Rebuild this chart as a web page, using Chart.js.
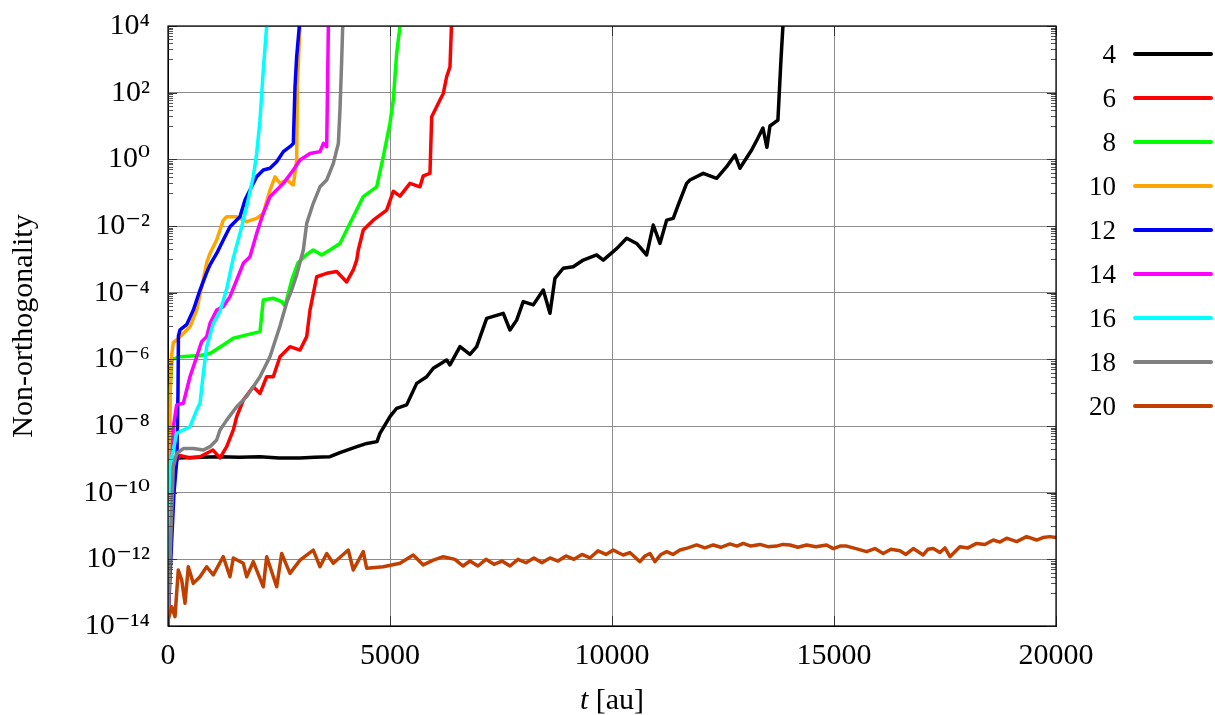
<!DOCTYPE html>
<html><head><meta charset="utf-8">
<script src="https://cdn.jsdelivr.net/npm/chart.js"></script>
<style>html,body{margin:0;padding:0;background:#fff;overflow:hidden;} #wrap{width:1215px;height:715px;}</style>
</head><body>
<div id="wrap"><canvas id="c" width="1215" height="715"></canvas></div>
<script>
const seriesLabels = ['4','6','8','10','12','14','16','18','20'];
const seriesColors = ['#000000','#ff0000','#00ff00','#ffa500','#0000ff','#ff00ff','#00ffff','#808080','#bf4000'];

const t4 = [0,60,120,203,700,1171,1600,2072,2500,2973,3300,3648,3873,4256,4481,4707,4774,4999,5150,5375,5601,5826,5975,6276,6351,6576,6801,6952,7177,7551,7702,7853,8001,8227,8452,8603,8715,8902,9127,9353,9654,9803,10105,10330,10555,10780,10929,11080,11231,11379,11492,11681,11755,12055,12357,12582,12769,12881,13145,13264,13399,13489,13557,13737,13805,13850];
const v4 = [3.2e-14,1e-11,3.2e-10,1.1e-9,1.15e-9,1.2e-9,1.15e-9,1.2e-9,1.1e-9,1.1e-9,1.15e-9,1.2e-9,1.6e-9,2.4e-9,3.0e-9,3.4e-9,6.0e-9,1.9e-8,3.4e-8,4.3e-8,1.9e-7,3.0e-7,5.4e-7,9.5e-7,6.8e-7,2.4e-6,1.4e-6,2.4e-6,1.7e-5,2.4e-5,7.6e-6,1.5e-5,5.4e-5,4.3e-5,1.2e-4,2.4e-5,2.7e-4,5.4e-4,6.0e-4,9.5e-4,1.35e-3,9.5e-4,2.1e-3,4.3e-3,3.0e-3,1.35e-3,1.07e-2,3.0e-3,1.5e-2,1.7e-2,4.3e-2,0.19,0.24,0.38,0.27,0.60,1.35,0.54,1.9,3.8,8.7,2.3,10,15,950,1e4];

const t6 = [0,40,100,160,270,495,721,1013,1171,1322,1471,1547,1696,1921,2072,2223,2371,2522,2747,2973,3124,3198,3349,3574,3799,4024,4173,4250,4286,4398,4623,4925,5074,5225,5450,5675,5749,5900,5939,6125,6200,6276,6351,6384];
const v6 = [1e-14,1e-12,1e-10,7.9e-10,1.3e-9,1.1e-9,1.2e-9,1.9e-9,1.1e-9,2.4e-9,7.6e-9,1.9e-8,6.0e-8,1.5e-7,9.5e-8,3.0e-7,3.0e-7,1.2e-6,2.4e-6,1.9e-6,4.8e-6,3.0e-5,3.0e-4,3.8e-4,4.3e-4,2.1e-4,4.8e-4,9.5e-4,1.9e-3,7.6e-3,1.5e-2,3.0e-2,0.11,7.9e-2,0.19,0.15,0.32,0.38,19,60,95,300,600,1e4];

const t8 = [0,11,45,90,270,721,946,1245,1471,1772,2072,2146,2371,2560,2635,2792,2927,3124,3272,3461,3648,3873,4024,4173,4398,4700,4849,4999,5074,5150,5225];
const v8 = [1e-13,1e-12,1e-7,1e-6,1.2e-6,1.3e-6,1.5e-6,2.7e-6,4.3e-6,5.4e-6,6.8e-6,6.0e-5,6.8e-5,5.4e-5,4.0e-5,2.5e-4,7.9e-4,1.4e-3,1.9e-3,1.35e-3,1.9e-3,3.0e-3,7.6e-3,1.9e-2,7.6e-2,0.15,1.2,12,60,1500,1e4];

const t10 = [0,10,25,70,120,195,345,495,646,796,871,946,1096,1245,1322,1547,1772,1997,2146,2297,2410,2522,2673,2823,2898,2913,2973];
const v10 = [3.2e-14,1e-11,5e-9,1e-6,3.2e-6,3.8e-6,6.0e-6,9.5e-6,3.0e-5,2.5e-4,7.9e-4,1.5e-3,3.8e-3,1.5e-2,1.9e-2,1.9e-2,1.35e-2,1.7e-2,2.4e-2,0.12,0.30,0.19,0.24,0.17,0.95,160,1e4];

const t12 = [0,45,135,200,225,235,270,420,571,721,871,946,1096,1245,1396,1621,1734,1846,1997,2146,2297,2447,2598,2747,2823,2860,2898,2958];
const v12 = [1e-14,3.2e-13,1e-10,1e-9,1e-7,5.0e-6,7.6e-6,1.1e-5,3.0e-5,1.2e-4,4.0e-4,6.8e-4,1.5e-3,3.8e-3,9.5e-3,1.9e-2,6.0e-2,0.12,0.30,0.48,0.54,0.85,1.7,2.4,3.0,150,1200,1e4];

const t14 = [0,40,90,120,195,345,420,495,646,758,871,946,1096,1245,1396,1547,1696,1846,1997,2146,2297,2447,2598,2823,2973,3198,3423,3500,3574,3612];
const v14 = [1e-14,1e-11,1e-9,9.5e-9,4.3e-8,4.8e-8,1.2e-7,3.0e-7,1.2e-6,3.4e-6,4.8e-6,1.2e-5,3.0e-5,3.8e-5,7.6e-5,2.4e-4,7.6e-4,1.2e-3,6.0e-3,2.4e-2,7.6e-2,0.12,0.19,0.48,0.95,1.5,1.7,3.0,2.4,1e4];

const t16 = [0,30,45,195,345,495,646,721,796,871,1022,1171,1322,1471,1621,1772,1921,1997,2072,2146,2223];
const v16 = [5.0e-14,3.2e-12,6.0e-10,6.0e-9,7.6e-9,9.5e-9,3.0e-8,4.8e-8,3.8e-7,2.4e-6,1.2e-5,2.7e-5,1.3e-4,1.1e-3,6.0e-3,3.8e-2,0.30,1.5,15,480,1e4];

const t18 = [0,45,120,195,345,571,796,946,1096,1171,1322,1547,1772,1921,2072,2297,2522,2673,2786,2898,3048,3124,3272,3423,3574,3724,3837,3873,3912,3935];
const v18 = [1e-14,1e-12,6.0e-10,1.5e-9,2.1e-9,2.1e-9,1.9e-9,2.4e-9,3.8e-9,7.6e-9,1.5e-8,3.8e-8,7.6e-8,1.5e-7,3.0e-7,1.2e-6,1e-5,5.0e-5,1.2e-4,3.4e-4,1.9e-3,1.2e-2,4.8e-2,0.15,0.24,0.76,3.0,30,950,1e4];

const t20 = [0,7,83,158,232,309,383,457,570,721,871,1020,1245,1396,1471,1696,1772,1921,2146,2223,2448,2560,2747,2973,3272,3423,3574,3723,4060,4173,4398,4475,4849,5225,5524,5749,5975,6200,6463,6643,6801,6981,7161,7342,7522,7702,7882,8062,8242,8422,8603,8783,8963,9143,9323,9503,9684,9864,10028,10134,10253,10402,10629,10742,10855,10967,11103,11231,11372,11530,11710,11906,12093,12280,12453,12656,12814,12956,13129,13332,13512,13708,13850,14008,14188,14383,14593,14834,14983,15134,15284,15494,15734,15921,16108,16282,16485,16620,16785,17009,17115,17235,17386,17499,17611,17836,18016,18212,18398,18586,18737,18888,19113,19338,19564,19706,19863,20000];
const v20 = [1e-14,1.6e-14,3.8e-14,1.9e-14,4.8e-13,2.4e-13,4.8e-14,6.0e-13,1.9e-13,3.0e-13,6.0e-13,3.4e-13,1.2e-12,3.0e-13,1.1e-12,7.6e-13,3.0e-13,8.5e-13,1.5e-13,1.2e-12,1.5e-13,1.5e-12,3.8e-13,9.5e-13,1.9e-12,6.0e-13,1.5e-12,7.6e-13,1.9e-12,4.8e-13,1.7e-12,5.4e-13,6.0e-13,7.6e-13,1.35e-12,6.8e-13,9.5e-13,1.2e-12,1.0e-12,6.3e-13,8.9e-13,6.3e-13,1.0e-12,7.1e-13,8.9e-13,6.3e-13,1.0e-12,7.9e-13,1.1e-12,7.9e-13,1.1e-12,8.9e-13,1.26e-12,1.0e-12,1.4e-12,1.1e-12,1.8e-12,1.4e-12,1.9e-12,1.6e-12,1.35e-12,1.6e-12,8.5e-13,1.26e-12,1.5e-12,8.5e-13,1.4e-12,1.7e-12,1.4e-12,1.9e-12,2.2e-12,2.7e-12,2.2e-12,2.7e-12,2.3e-12,2.9e-12,2.5e-12,3.0e-12,2.5e-12,2.8e-12,2.4e-12,2.5e-12,2.8e-12,2.7e-12,2.3e-12,2.7e-12,2.4e-12,2.7e-12,2.1e-12,2.5e-12,2.5e-12,2.1e-12,1.7e-12,2.1e-12,1.5e-12,2.0e-12,1.8e-12,1.4e-12,2.1e-12,1.35e-12,2.0e-12,2.1e-12,1.6e-12,2.2e-12,1.2e-12,2.4e-12,2.2e-12,3.0e-12,2.8e-12,3.8e-12,3.3e-12,4.3e-12,3.4e-12,4.8e-12,3.8e-12,4.5e-12,4.8e-12,4.5e-12];

const xTicks = [0,5000,10000,15000,20000];
const xTickLabels = ['0','5000','10000','15000','20000'];
const yTicks = [1e-14,1e-12,1e-10,1e-8,1e-6,1e-4,1e-2,1,1e2,1e4];
const yTickLabels = ['10\u207B\u00B9\u2074','10\u207B\u00B9\u00B2','10\u207B\u00B9\u2070','10\u207B\u2078','10\u207B\u2076','10\u207B\u2074','10\u207B\u00B2','10\u2070','10\u00B2','10\u2074'];
const xTitleItalic = 't';
const xTitleRest = ' [au]';
const yTitle = 'Non-orthogonality';

const times = [t4,t6,t8,t10,t12,t14,t16,t18,t20];
const values = [v4,v6,v8,v10,v12,v14,v16,v18,v20];

const FONT = "'Liberation Serif', 'DejaVu Serif', serif";
Chart.defaults.font.family = FONT;
Chart.defaults.font.size = 30;
Chart.defaults.color = '#000';

const decorPlugin = {
  id: 'decor',
  afterDraw(chart) {
    const ctx = chart.ctx, ca = chart.chartArea;
    const ys = chart.scales.y, xs = chart.scales.x;
    ctx.save();
    ctx.lineWidth = 1;
    ctx.strokeStyle = '#333';
    ctx.beginPath();
    yTicks.forEach(v => {
      const p = Math.round(ys.getPixelForValue(v)) + 0.5;
      ctx.moveTo(ca.left, p); ctx.lineTo(ca.left + 9, p);
      ctx.moveTo(ca.right, p); ctx.lineTo(ca.right - 9, p);
    });
    xTicks.forEach(v => {
      const p = Math.round(xs.getPixelForValue(v)) + 0.5;
      ctx.moveTo(p, ca.top); ctx.lineTo(p, ca.top + 10);
      ctx.moveTo(p, ca.bottom); ctx.lineTo(p, ca.bottom - 10);
    });
    ctx.stroke();
    ctx.strokeStyle = '#555';
    ctx.beginPath();
    yTicks.forEach((v, k) => {
      if (k === 0) return;
      for (let m = 1; m <= 9; m++) {
        const p = Math.round(ys.getPixelForValue(m * v / 10)) + 0.5;
        ctx.moveTo(ca.left, p); ctx.lineTo(ca.left + 5, p);
        ctx.moveTo(ca.right, p); ctx.lineTo(ca.right - 5, p);
      }
    });
    ctx.stroke();
    ctx.strokeStyle = '#000';
    ctx.lineWidth = 1.2;
    ctx.strokeRect(ca.left, ca.top, ca.right - ca.left, ca.bottom - ca.top);
    // x title with italic t
    ctx.fillStyle = '#000';
    ctx.textBaseline = 'alphabetic';
    ctx.font = 'italic 30px ' + FONT;
    const w1 = ctx.measureText(xTitleItalic).width;
    ctx.font = '30px ' + FONT;
    const w2 = ctx.measureText(xTitleRest).width;
    const cx = (ca.left + ca.right) / 2;
    const x0 = cx - (w1 + w2) / 2;
    ctx.textAlign = 'left';
    ctx.font = 'italic 30px ' + FONT;
    ctx.fillText(xTitleItalic, x0, 709);
    ctx.font = '30px ' + FONT;
    ctx.fillText(xTitleRest, x0 + w1, 709);
    // legend
    chart.data.datasets.forEach((ds, i) => {
      const y = 55 + 44 * i;
      ctx.font = '27px ' + FONT;
      ctx.textAlign = 'right';
      ctx.textBaseline = 'middle';
      ctx.fillStyle = '#000';
      ctx.fillText(ds.label, 1116, y + 1);
      ctx.strokeStyle = ds.borderColor;
      ctx.lineWidth = 4;
      ctx.lineCap = 'round';
      ctx.beginPath();
      ctx.moveTo(1135, y - 1); ctx.lineTo(1211, y - 1);
      ctx.stroke();
    });
    ctx.restore();
  }
};

new Chart(document.getElementById('c'), {
  type: 'line',
  data: {
    datasets: seriesLabels.map((lab, i) => ({
      label: lab,
      data: times[i].map((t, j) => ({x: t, y: values[i][j]})),
      borderColor: seriesColors[i],
      backgroundColor: seriesColors[i],
      borderWidth: 3.5,
      pointRadius: 0,
      fill: false,
      tension: 0,
      order: seriesLabels.length - 1 - i,
      borderJoinStyle: 'round',
      borderCapStyle: 'round'
    }))
  },
  options: {
    responsive: false,
    animation: false,
    layout: {padding: {top: 26, right: 159, bottom: 0, left: 0}},
    plugins: {legend: {display: false}, tooltip: {enabled: false}},
    scales: {
      x: {
        type: 'linear', min: 0, max: 20000,
        afterBuildTicks: s => { s.ticks = xTicks.map(v => ({value: v})); },
        afterFit: s => { s.height = 89; s.paddingLeft = 0; s.paddingRight = 0; },
        ticks: {padding: 12, maxRotation: 0, autoSkip: false, callback: (v, i) => xTickLabels[i]},
        grid: {color: '#8c8c8c', lineWidth: 1, drawTicks: false},
        border: {display: true, color: '#000', width: 1}
      },
      y: {
        type: 'logarithmic', min: 1e-14, max: 1e4,
        afterBuildTicks: s => { s.ticks = yTicks.map(v => ({value: v})); },
        afterFit: s => { s.width = 168; s.paddingTop = 0; s.paddingBottom = 0; },
        ticks: {padding: 18, autoSkip: false, callback: (v, i) => yTickLabels[i]},
        grid: {color: '#8c8c8c', lineWidth: 1, drawTicks: false},
        border: {display: true, color: '#000', width: 1},
        title: {display: true, text: yTitle, padding: {top: 6, bottom: 0}}
      }
    }
  },
  plugins: [decorPlugin]
});
</script>
</body></html>
